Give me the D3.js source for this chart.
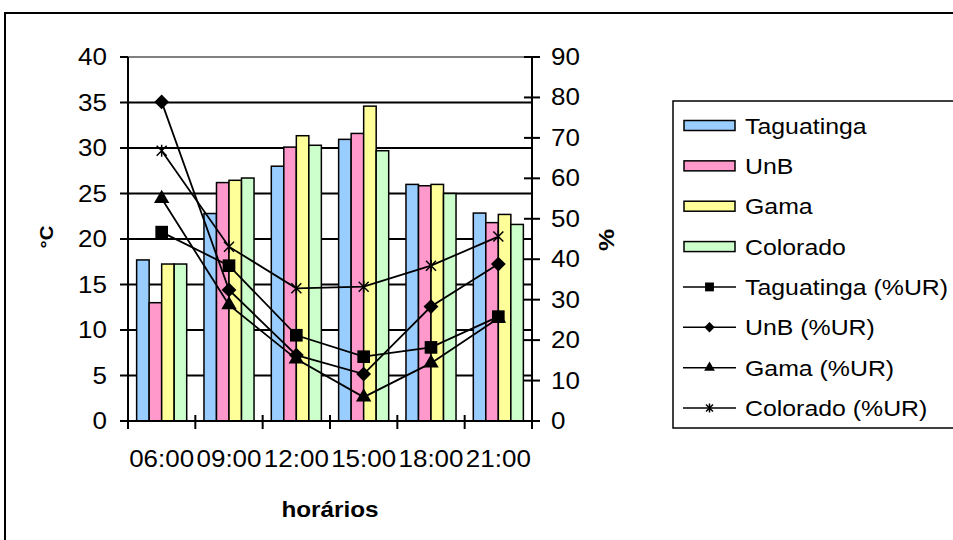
<!DOCTYPE html>
<html>
<head>
<meta charset="utf-8">
<script src="https://cdn.jsdelivr.net/npm/d3@7"></script>
<style>
body { margin: 0; background: #fff; }
text { font-family: "Liberation Sans", Arial, sans-serif; fill: #000; }
</style>
</head>
<body>
<svg width="953" height="540"></svg>
<script>
let svg = d3.select("svg");

// horários
let categories = ["06:00", "09:00", "12:00", "15:00", "18:00", "21:00"];

// temperatura (°C)
let tempTaguatinga = [17.7, 22.8, 28.0, 30.95, 26.0, 22.85];
let tempUnB        = [13.0, 26.2, 30.1, 31.6, 25.85, 21.8];
let tempGama       = [17.25, 26.45, 31.35, 34.6, 26.0, 22.7];
let tempColorado   = [17.25, 26.7, 30.3, 29.7, 25.0, 21.6];

// umidade relativa (%)
let urTaguatinga = [46.7, 38.4, 21.2, 15.9, 18.2, 25.8];
let urUnB        = [78.9, 32.4, 16.3, 11.6, 28.3, 38.8];
let urGama       = [55.0, 28.7, 15.3, 5.9, 14.3, 25.4];
let urColorado   = [66.8, 43.1, 32.8, 33.2, 38.4, 45.6];

let leftTicks = [0, 5, 10, 15, 20, 25, 30, 35, 40];
let rightTicks = [0, 10, 20, 30, 40, 50, 60, 70, 80, 90];

let barSeries = [
    {name: "Taguatinga", values: tempTaguatinga, color: "#99ccff"},
    {name: "UnB", values: tempUnB, color: "#ff99cc"},
    {name: "Gama", values: tempGama, color: "#ffff99"},
    {name: "Colorado", values: tempColorado, color: "#ccffcc"}
];
let lineSeries = [
    {name: "Taguatinga (%UR)", values: urTaguatinga, marker: "square"},
    {name: "UnB (%UR)", values: urUnB, marker: "diamond"},
    {name: "Gama (%UR)", values: urGama, marker: "triangle"},
    {name: "Colorado (%UR)", values: urColorado, marker: "star"}
];

let plot = {left: 128, right: 532, top: 57, bottom: 421};
let stretch = "scale(1.13,1)";

let x = d3.scaleBand()
    .domain(categories)
    .range([plot.left, plot.right]);

let xInner = d3.scaleBand()
    .domain(barSeries.map(s => s.name))
    .range([0, x.bandwidth()])
    .paddingOuter(0.69);

let yLeft = d3.scaleLinear().domain([0, 40]).range([plot.bottom, plot.top]);
let yRight = d3.scaleLinear().domain([0, 90]).range([plot.bottom, plot.top]);

//outer chart border
svg.append("rect")
    .attr("x", 5).attr("y", 13)
    .attr("width", 960).attr("height", 540)
    .attr("fill", "none")
    .attr("stroke", "#000")
    .attr("stroke-width", 2);

//helper for the slightly wide text of the original
function label(g, tx, ty, str, anchor, size, weight, rotate){
    return g.append("text")
        .attr("transform", "translate(" + tx + "," + ty + ")" + (rotate ? " rotate(" + rotate + ")" : "") + " " + stretch)
        .attr("text-anchor", anchor)
        .style("font-size", size + "px")
        .style("font-weight", weight || "normal")
        .text(str);
}

//gridlines
svg.append("g")
    .selectAll("line")
    .data(leftTicks.filter(d => d > 0)).enter().append("line")
        .attr("x1", plot.left).attr("x2", plot.right)
        .attr("y1", d => yLeft(d)).attr("y2", d => yLeft(d))
        .attr("stroke", d => d === 40 ? "#808080" : "#000")
        .attr("stroke-width", 2);

//bars
let groups = svg.append("g")
    .selectAll("g")
    .data(barSeries).enter().append("g");

groups.selectAll("rect")
    .data(s => s.values.map((v, i) => ({s: s, v: v, c: categories[i]})))
    .enter().append("rect")
        .attr("x", d => x(d.c) + xInner(d.s.name))
        .attr("y", d => yLeft(d.v))
        .attr("width", xInner.bandwidth())
        .attr("height", d => yLeft(0) - yLeft(d.v))
        .attr("fill", d => d.s.color)
        .attr("stroke", "#000")
        .attr("stroke-width", 1.5);

//axes
let axes = svg.append("g");
axes.append("line")
    .attr("x1", plot.left).attr("x2", plot.left)
    .attr("y1", plot.top).attr("y2", plot.bottom)
    .attr("stroke", "#000").attr("stroke-width", 2);
axes.append("line")
    .attr("x1", plot.right).attr("x2", plot.right)
    .attr("y1", plot.top).attr("y2", plot.bottom)
    .attr("stroke", "#000").attr("stroke-width", 2);
axes.append("line")
    .attr("x1", plot.left - 8).attr("x2", plot.right + 8)
    .attr("y1", plot.bottom).attr("y2", plot.bottom)
    .attr("stroke", "#000").attr("stroke-width", 2);

axes.selectAll("line.lt")
    .data(leftTicks).enter().append("line")
        .attr("class", "lt")
        .attr("x1", plot.left - 8).attr("x2", plot.left)
        .attr("y1", d => yLeft(d)).attr("y2", d => yLeft(d))
        .attr("stroke", "#000").attr("stroke-width", 2);

axes.selectAll("line.rt")
    .data(rightTicks).enter().append("line")
        .attr("class", "rt")
        .attr("x1", plot.right - 8).attr("x2", plot.right + 8)
        .attr("y1", d => yRight(d)).attr("y2", d => yRight(d))
        .attr("stroke", "#000").attr("stroke-width", 2);

let xTickPos = categories.map(c => x(c)).concat([plot.right]);
axes.selectAll("line.xt")
    .data(xTickPos).enter().append("line")
        .attr("class", "xt")
        .attr("x1", d => d).attr("x2", d => d)
        .attr("y1", plot.bottom - 6).attr("y2", plot.bottom + 8)
        .attr("stroke", "#000").attr("stroke-width", 2);

leftTicks.forEach(d => label(axes, 107, yLeft(d) + 8, d, "end", 23));
rightTicks.forEach(d => label(axes, 551, yRight(d) + 8, d, "start", 23));
categories.forEach(c => label(axes, x(c) + x.bandwidth() / 2, 467, c, "middle", 23));

label(svg, 330, 517, "horários", "middle", 21.5, "bold");
label(svg, 53, 237, "°C", "middle", 18, "bold", -90);
label(svg, 614, 240, "%", "middle", 22, "bold", -90);

//marker shapes
function drawMarker(g, type, cx, cy, scale){
    scale = scale || 1;
    if (type === "star") {
        let r = 5 * scale;
        g.append("path")
            .attr("d", "M" + (cx - r) + "," + (cy - r) + "L" + (cx + r) + "," + (cy + r) +
                "M" + (cx - r) + "," + (cy + r) + "L" + (cx + r) + "," + (cy - r) +
                "M" + cx + "," + (cy - r - 1) + "L" + cx + "," + (cy + r + 1))
            .attr("stroke", "#000").attr("stroke-width", 1.5).attr("fill", "none");
    } else {
        let sym = type === "square" ? d3.symbol().type(d3.symbolSquare).size(160 * scale * scale)
            : type === "diamond" ? d3.symbol().type(d3.symbolDiamond2).size(140 * scale * scale)
            : d3.symbol().type(d3.symbolTriangle2).size(170 * scale * scale);
        g.append("path")
            .attr("transform", "translate(" + cx + "," + cy + ")")
            .attr("d", sym())
            .attr("fill", "#000");
    }
}

//humidity lines
let line = d3.line()
    .x((d, i) => x(categories[i]) + x.bandwidth() / 2)
    .y(d => yRight(d));

let lines = svg.append("g");
lineSeries.forEach(s => {
    lines.append("path")
        .datum(s.values)
        .attr("d", line)
        .attr("fill", "none")
        .attr("stroke", "#000")
        .attr("stroke-width", 1.8);
});
lineSeries.forEach(s => {
    s.values.forEach((v, i) => {
        drawMarker(lines, s.marker, x(categories[i]) + x.bandwidth() / 2, yRight(v));
    });
});

//legend
let legend = svg.append("g");
legend.append("rect")
    .attr("x", 673).attr("y", 101)
    .attr("width", 300).attr("height", 327)
    .attr("fill", "#fff")
    .attr("stroke", "#000")
    .attr("stroke-width", 1.5);

let rowY = d3.scalePoint()
    .domain(barSeries.map(s => s.name).concat(lineSeries.map(s => s.name)))
    .range([125.5, 408]);

barSeries.forEach(s => {
    legend.append("rect")
        .attr("x", 684).attr("y", rowY(s.name) - 5)
        .attr("width", 51).attr("height", 10)
        .attr("fill", s.color)
        .attr("stroke", "#000").attr("stroke-width", 1.5);
    label(legend, 745, rowY(s.name) + 8, s.name, "start", 22);
});
lineSeries.forEach(s => {
    legend.append("line")
        .attr("x1", 683).attr("x2", 736)
        .attr("y1", rowY(s.name)).attr("y2", rowY(s.name))
        .attr("stroke", "#000").attr("stroke-width", 1.5);
    drawMarker(legend, s.marker, 709.5, rowY(s.name), 0.7);
    label(legend, 745, rowY(s.name) + 8, s.name, "start", 22);
});
</script>
</body>
</html>
